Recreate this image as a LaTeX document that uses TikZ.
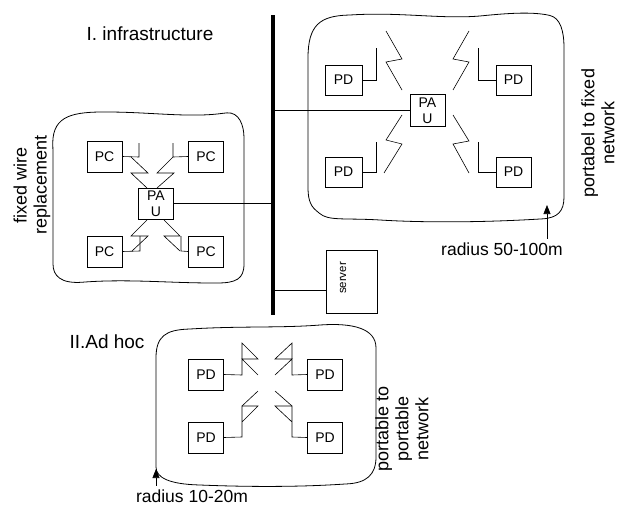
\documentclass[tikz,border=0pt]{standalone}
\usepackage{fontspec}
\setmainfont{Liberation Sans}
\usetikzlibrary{arrows.meta}

\begin{document}
\begin{tikzpicture}
        [x=1pt,y=-1pt,line width=0.6pt,
         box/.style={draw,minimum width=35pt,minimum height=31pt,inner sep=0pt,
                     font=\fontsize{14}{16}\selectfont,align=center},
         big label/.style={font=\fontsize{19}{21}\selectfont,align=center},
         cloud edge/.style={line width=0.8pt,rounded corners=2pt}]
        \useasboundingbox (0,0) rectangle (618,506);
        %disegno bus
            \coordinate (bustop) at (273,15);
            \coordinate (busbot) at (273,315);
            \draw[line width=4.5pt] (bustop) -- (busbot);
        %disegno nuvole
            \draw[cloud edge] (53,150) .. controls (51,118) and (68,112) .. (105,112)
                .. controls (150,112) and (190,118) .. (225,113)
                .. controls (239,112) and (244,125) .. (244,140) -- (244,262)
                .. controls (244,279) and (236,283) .. (215,283)
                .. controls (170,283) and (130,279) .. (85,282)
                .. controls (61,284) and (53,276) .. (53,262) -- cycle;
            \draw[cloud edge] (308,60) .. controls (308,25) and (320,16) .. (350,15)
                .. controls (400,12) and (440,19) .. (480,16)
                .. controls (510,13) and (530,12) .. (548,15)
                .. controls (560,18) and (564,30) .. (564,50) -- (564,195)
                .. controls (564,211) and (558,218) .. (540,219)
                .. controls (490,222) and (430,223) .. (380,220)
                .. controls (345,218) and (328,221) .. (318,212)
                .. controls (309,205) and (308,196) .. (308,185) -- cycle;
            \draw[cloud edge] (156,360) .. controls (156,336) and (166,330) .. (190,329)
                .. controls (240,326) and (280,328) .. (320,325)
                .. controls (352,323) and (376,328) .. (376,350) -- (376,455)
                .. controls (376,475) and (366,483) .. (345,484)
                .. controls (300,487) and (250,487) .. (200,485)
                .. controls (170,484) and (156,478) .. (156,465) -- cycle;
        %I. infrastructure: PC e PAU
            \node[box] (pcA) at (104.5,156.5) {PC};
            \node[box] (pcB) at (206,156.5) {PC};
            \node[box] (pcC) at (104.5,251.5) {PC};
            \node[box] (pcD) at (206,251.5) {PC};
            \node[box] (pauL) at (156,203.5) {PA\\U};
            \draw (pcA.east) -- (139,157) -- (139,143);
            \draw (pcB.west) -- (173,157) -- (173,143);
            \draw (pcC.east) -- (140,251) -- (140,236);
            \draw (pcD.west) -- (181,251) -- (181,236);
            \draw (131,157) -- (148,173) -- (131,173) -- (147,188);
            \draw (173,157) -- (157,173) -- (174,173) -- (157,188);
            \draw (147,220) -- (131,236) -- (148,236) -- (132,251);
            \draw (164,220) -- (180,236) -- (164,236) -- (180,251);
            \draw (pauL.east) -- (pauL.east -| bustop);
        %portabel to fixed: PD e PAU
            \node[box,minimum width=37pt,minimum height=30pt] (pdA) at (343.5,80) {PD};
            \node[box,minimum height=30pt] (pdB) at (513.5,80) {PD};
            \node[box,minimum width=37pt,minimum height=30pt] (pdC) at (343.5,172) {PD};
            \node[box,minimum height=30pt] (pdD) at (513.5,172) {PD};
            \node[box,minimum height=32pt] (pauR) at (427.5,110.5) {PA\\U};
            \draw (pdA.east) -- (376,80) -- (376,48);
            \draw (pdB.west) -- (478,80) -- (478,48);
            \draw (pdC.east) -- (376,172) -- (376,142);
            \draw (pdD.west) -- (478,172) -- (478,142);
            \draw (386,31) -- (402,59) -- (386,62) -- (402,90);
            \draw (469,31) -- (453,59) -- (469,62) -- (453,90);
            \draw (402,115) -- (386,140) -- (402,144) -- (384,173);
            \draw (453,115) -- (469,141) -- (453,144) -- (469,173);
            \draw (pauR.west) -- (pauR.west -| bustop);
        %server
            \node[box,minimum width=51pt,minimum height=63pt] (srv) at (351.5,281.5) {};
            \node[rotate=90,font=\fontsize{11.5}{12}\selectfont] (srvtxt) at (343,278) {server};
            \draw ([yshift=-8.5pt]srv.west) -- ([yshift=-8.5pt]srv.west -| bustop);
        %II. Ad hoc: PD
            \node[box] (pdE) at (206,374.5) {PD};
            \node[box] (pdF) at (325,374.5) {PD};
            \node[box] (pdG) at (206,437.5) {PD};
            \node[box] (pdH) at (325,437.5) {PD};
            \draw (pdE.east) -- (242,375) -- (242,343) -- (258,359) -- (242,359) -- (258,375);
            \draw (pdF.west) -- (292,375) -- (292,343) -- (275,359) -- (292,359) -- (275,375);
            \draw (pdG.east) -- (242,437) -- (242,406) -- (258,406) -- (242,422);
            \draw (258,391) -- (242,406);
            \draw (pdH.west) -- (292,437) -- (292,406) -- (275,406) -- (292,422);
            \draw (275,391) -- (292,406);
        %etichette
            \node[big label] (infra) at (150,34) {I. infrastructure};
            \node[big label] (adhoc) at (107,342) {II.Ad hoc};
            \node[big label,font=\fontsize{18}{20}\selectfont,rotate=90] (fixw) at (32,185) {fixed wire\\replacement};
            \node[big label,font=\fontsize{18}{20}\selectfont,rotate=90] (ptf) at (598,133) {portabel to fixed\\network};
            \node[big label,font=\fontsize{18}{20}\selectfont,rotate=90] (ptp) at (402,429) {portable to\\portable\\network};
            \node[big label,font=\fontsize{17.5}{20}\selectfont] (rad1) at (502,249) {radius 50-100m};
            \node[big label,font=\fontsize{17.5}{20}\selectfont] (rad2) at (192,496) {radius 10-20m};
            \coordinate (tip1) at (547,205);
            \coordinate (tip2) at (156,469);
            \draw[-{Triangle[length=9pt,width=7pt]}] (rad1.north -| tip1) -- (tip1);
            \draw[-{Triangle[length=9pt,width=7pt]}] (rad2.north -| tip2) -- (tip2);
    \end{tikzpicture}
\end{document}
